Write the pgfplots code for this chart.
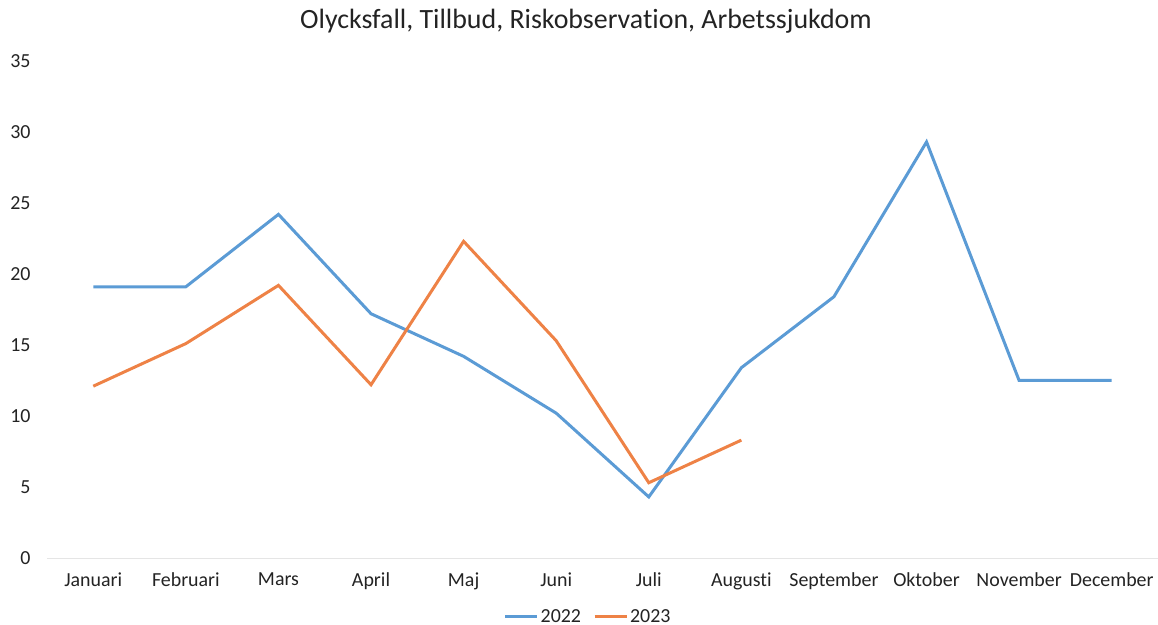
\documentclass[border=0pt]{standalone}
\usepackage{fontspec}
\setmainfont{Carlito}[Ligatures=NoCommon]
\usepackage{pgfplots}
\pgfplotsset{compat=1.18}
\definecolor{xlblue}{RGB}{91,155,213}
\definecolor{xlorange}{RGB}{238,130,70}
\definecolor{txt}{RGB}{35,35,35}
\begin{document}
\begin{tikzpicture}
\useasboundingbox (-47bp,-67bp) rectangle (1111bp,558bp);
\begin{axis}[
  at={(0,0)}, anchor=south west,
  scale only axis,
  width=1111bp, height=497bp,
  xmin=-0.5, xmax=11.5,
  ymin=0, ymax=35,
  ytick={0,5,...,35},
  xtick={0,...,11},
  xticklabels={Januari,Februari,Mars,April,Maj,Juni,Juli,Augusti,September,Oktober,November,December},
  major tick length=0pt,
  axis y line*=left, axis x line*=bottom,
  y axis line style={draw=none},
  x axis line style={draw=black!10, line width=1bp},
  /pgf/number format/assume math mode=true,
  ticklabel style={font=\fontsize{20}{22}\selectfont, text=txt},
  yticklabel style={xshift=-13bp},
  xticklabel style={yshift=-11bp},
  legend style={at={(0.487,-0.118)}, anchor=center, draw=none, fill=none,
    font=\fontsize{20}{22}\selectfont, text=txt, legend columns=2,
    /tikz/every even column/.append style={column sep=10bp}},
  legend image code/.code={\draw[#1, line width=3bp] (0bp,0bp) -- (32bp,0bp);},
]
\addplot[xlblue, line width=3bp] coordinates {
 (0,19.1) (1,19.1) (2,24.2) (3,17.2) (4,14.2) (5,10.2) (6,4.3) (7,13.4) (8,18.4) (9,29.3) (10,12.5) (11,12.5)};
\addlegendentry{2022}
\addplot[xlorange, line width=3bp] coordinates {
 (0,12.1) (1,15.1) (2,19.2) (3,12.2) (4,22.3) (5,15.3) (6,5.3) (7,8.3)};
\addlegendentry{2023}
\end{axis}
\node[font=\fontsize{28}{32}\selectfont, text=txt] at (539bp,537bp) {Olycksfall, Tillbud, Riskobservation, Arbetssjukdom};
\end{tikzpicture}
\end{document}
